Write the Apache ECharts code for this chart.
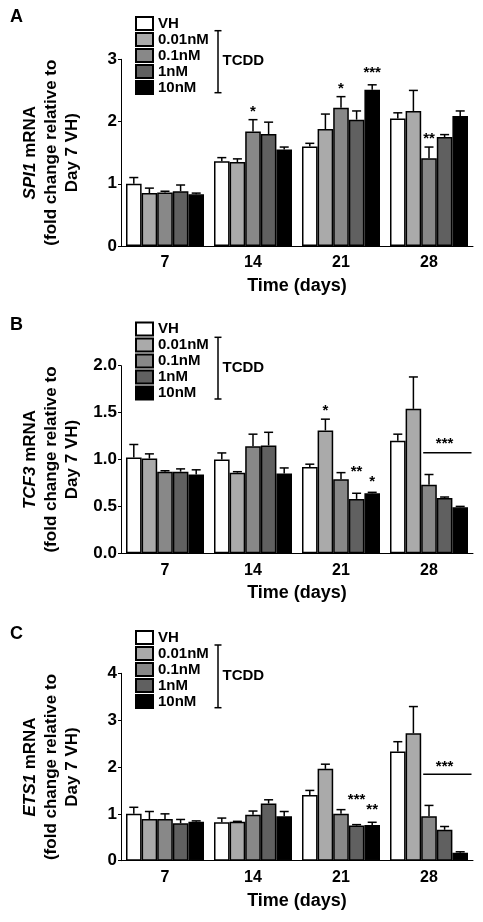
<!DOCTYPE html>
<html>
<head>
<meta charset="utf-8">
<script src="https://cdn.jsdelivr.net/npm/echarts@6/dist/echarts.min.js"></script>
<style>html,body{margin:0;padding:0;background:#fff}#c{width:483px;height:922px}</style>
</head>
<body>
<div id="c"></div>
<script>
// ---- data ----
const days = ['7', '14', '21', '28'];
const doses = ['VH', '0.01nM', '0.1nM', '1nM', '10nM'];
const doseColors = ['#ffffff', '#aaaaaa', '#888888', '#606060', '#000000'];

// SPI1 means per dose (over days 7,14,21,28)
const spi1Mean = [
  [1.00, 1.36, 1.60, 2.05],
  [0.85, 1.35, 1.88, 2.17],
  [0.86, 1.84, 2.22, 1.41],
  [0.88, 1.80, 2.03, 1.75],
  [0.83, 1.55, 2.51, 2.09]
];
const spi1Sem = [
  [0.10, 0.06, 0.05, 0.09],
  [0.08, 0.05, 0.24, 0.33],
  [0.02, 0.19, 0.18, 0.18],
  [0.10, 0.19, 0.14, 0.04],
  [0.02, 0.04, 0.08, 0.08]
];
// TCF3
const tcf3Mean = [
  [1.02, 1.00, 0.92, 1.20],
  [1.01, 0.86, 1.31, 1.54],
  [0.87, 1.14, 0.79, 0.73],
  [0.87, 1.15, 0.58, 0.59],
  [0.84, 0.85, 0.64, 0.49]
];
const tcf3Sem = [
  [0.14, 0.07, 0.03, 0.07],
  [0.05, 0.01, 0.12, 0.34],
  [0.01, 0.13, 0.07, 0.11],
  [0.03, 0.14, 0.06, 0.01],
  [0.05, 0.06, 0.01, 0.01]
];
// ETS1
const ets1Mean = [
  [1.00, 0.82, 1.40, 2.33],
  [0.89, 0.83, 1.96, 2.72],
  [0.89, 0.98, 1.00, 0.95],
  [0.80, 1.22, 0.75, 0.66],
  [0.83, 0.95, 0.76, 0.17]
];
const ets1Sem = [
  [0.14, 0.09, 0.10, 0.21],
  [0.16, 0.01, 0.10, 0.57],
  [0.11, 0.08, 0.09, 0.23],
  [0.08, 0.08, 0.02, 0.07],
  [0.02, 0.10, 0.06, 0.02]
];
// significance marks: [dayIndex, doseIndex, yValue, text]
const sigA = [[1, 2, 2.22, '*'], [2, 2, 2.59, '*'], [2, 4, 2.85, '***'], [3, 2, 1.78, '**']];
const sigB = [[2, 1, 1.556, '*'], [2, 3, 0.906, '**'], [2, 4, 0.80, '*'], [3, 3, 1.21, '***']];
const sigC = [[2, 3, 1.388, '***'], [2, 4, 1.167, '**'], [3, 3, 2.09, '***']];
// horizontal significance lines: [dayIndex, fromDose, toDose, yValue]
const lineB = [[3, 2, 4, 1.073]];
const lineC = [[3, 2, 4, 1.843]];
// y axis ticks
const yTicksA = [0, 1, 2, 3];
const yTicksB = [0, 0.5, 1.0, 1.5, 2.0];
const yTicksC = [0, 1, 2, 3, 4];

// ---- chart ----
const FONT = '"Liberation Sans", Arial, Helvetica, sans-serif';
const BW = 15.6;
const chart = echarts.init(document.getElementById('c'), null, {renderer: 'canvas'});

const grids = [
  {left: 121, top: 59.3, width: 352, height: 186.7},
  {left: 121, top: 365.7, width: 352, height: 187.6},
  {left: 121, top: 673.3, width: 352, height: 187.4}
];
const panels = [
  {mean: spi1Mean, sem: spi1Sem, sig: sigA, lines: [], ticks: yTicksA, gene: 'SPI1', dec: 0},
  {mean: tcf3Mean, sem: tcf3Sem, sig: sigB, lines: lineB, ticks: yTicksB, gene: 'TCF3', dec: 1},
  {mean: ets1Mean, sem: ets1Sem, sig: sigC, lines: lineC, ticks: yTicksC, gene: 'ETS1', dec: 0}
];

const xAxes = [], yAxes = [], series = [];
panels.forEach((p, gi) => {
  xAxes.push({
    type: 'category', gridIndex: gi, data: days,
    axisLine: {lineStyle: {color: '#000', width: 1}},
    axisTick: {alignWithLabel: true, length: 4, lineStyle: {color: '#000'}},
    axisLabel: {color: '#000', fontFamily: FONT, fontWeight: 'bold', fontSize: 16, margin: 9},
    name: 'Time (days)', nameLocation: 'middle', nameGap: 31,
    nameTextStyle: {color: '#000', fontFamily: FONT, fontWeight: 'bold', fontSize: 18}
  });
  const tk = p.ticks;
  yAxes.push({
    type: 'value', gridIndex: gi, min: tk[0], max: tk[tk.length - 1], interval: tk[1] - tk[0],
    splitLine: {show: false},
    axisLine: {show: true, lineStyle: {color: '#000', width: 1}},
    axisTick: {show: true, length: 3, lineStyle: {color: '#000'}},
    axisLabel: {color: '#000', fontFamily: FONT, fontWeight: 'bold', fontSize: 17, margin: 4,
      formatter: v => v.toFixed(p.dec)},
    name: '{it|' + p.gene + '} mRNA\n(fold change relative to\nDay 7 VH)',
    nameLocation: 'middle', nameGap: 38,
    nameTextStyle: {color: '#000', fontFamily: FONT, fontWeight: 'bold', fontSize: 17, lineHeight: 21,
      rich: {it: {fontStyle: 'italic', fontWeight: 'bold', fontFamily: FONT, fontSize: 17, color: '#000'}}}
  });
  doses.forEach((d, di) => {
    series.push({
      type: 'bar', name: d, xAxisIndex: gi, yAxisIndex: gi, data: p.mean[di],
      barWidth: BW, barGap: '0%',
      itemStyle: {color: doseColors[di], borderColor: '#000', borderWidth: 1.5},
      emphasis: {disabled: true}, z: 2
    });
  });
  // error bars
  const eb = [];
  p.mean.forEach((arr, di) => arr.forEach((m, dy) => eb.push([dy, di, m, m + p.sem[di][dy]])));
  series.push({
    type: 'custom', xAxisIndex: gi, yAxisIndex: gi, data: eb, encode: {x: 0, y: 3}, z: 3,
    renderItem: (params, api) => {
      const b = api.coord([api.value(0), api.value(2)]);
      const t = api.coord([api.value(0), api.value(3)]);
      const x = b[0] + (api.value(1) - 2) * BW;
      return {type: 'group', children: [
        {type: 'line', shape: {x1: x, y1: b[1], x2: x, y2: t[1]}, style: {stroke: '#000', lineWidth: 1.5}},
        {type: 'line', shape: {x1: x - 4.5, y1: t[1], x2: x + 4.5, y2: t[1]}, style: {stroke: '#000', lineWidth: 1.5}}
      ]};
    }
  });
  // significance text
  const sig = p.sig;
  series.push({
    type: 'custom', xAxisIndex: gi, yAxisIndex: gi, data: sig.map(s => [s[0], s[1], s[2]]),
    encode: {x: 0, y: 2}, z: 4, silent: true,
    renderItem: (params, api) => {
      const c = api.coord([api.value(0), api.value(2)]);
      const x = c[0] + (api.value(1) - 2) * BW;
      return {type: 'text', style: {x: x, y: c[1] + 4, text: sig[params.dataIndex][3],
        font: 'bold 15px ' + FONT, fill: '#000', align: 'center', verticalAlign: 'middle'}};
    }
  });
  if (p.lines.length) {
    const ln = p.lines;
    series.push({
      type: 'custom', xAxisIndex: gi, yAxisIndex: gi, data: ln.map(l => [l[0], l[1], l[2], l[3]]),
      encode: {x: 0, y: 3}, z: 4, silent: true,
      renderItem: (params, api) => {
        const c = api.coord([api.value(0), api.value(3)]);
        const x1 = c[0] + (api.value(1) - 2.5) * BW + 2;
        const x2 = c[0] + (api.value(2) - 1.5) * BW + 3.5;
        return {type: 'line', shape: {x1: x1, y1: c[1], x2: x2, y2: c[1]}, style: {stroke: '#000', lineWidth: 1.5}};
      }
    });
  }
});

const legendTops = [16, 321.5, 630];
const legends = legendTops.map(t => ({
  orient: 'vertical', left: 135, top: t, itemWidth: 17, itemHeight: 13, itemGap: 1,
  icon: 'rect', selectedMode: false, padding: 0,
  data: doses,
  textStyle: {color: '#000', fontFamily: FONT, fontWeight: 'bold', fontSize: 15, lineHeight: 13}
}));

// TCDD brackets and panel letters
const brackets = [[30.7, 92.7, 61], [337.3, 399, 367.7], [645, 707.7, 675.7]];
const letters = [['A', 17], ['B', 325], ['C', 634]];
const graphic = [];
brackets.forEach(b => {
  graphic.push({type: 'line', shape: {x1: 218, y1: b[0], x2: 218, y2: b[1]}, style: {stroke: '#000', lineWidth: 1.5}});
  graphic.push({type: 'line', shape: {x1: 214.5, y1: b[0], x2: 221.5, y2: b[0]}, style: {stroke: '#000', lineWidth: 1.5}});
  graphic.push({type: 'line', shape: {x1: 214.5, y1: b[1], x2: 221.5, y2: b[1]}, style: {stroke: '#000', lineWidth: 1.5}});
  graphic.push({type: 'text', x: 222.5, y: b[2], style: {text: 'TCDD', font: 'bold 15px ' + FONT, fill: '#000', verticalAlign: 'middle'}});
});
letters.forEach(l => {
  graphic.push({type: 'text', x: 10, y: l[1], style: {text: l[0], font: 'bold 18px ' + FONT, fill: '#000', verticalAlign: 'middle'}});
});

chart.setOption({
  animation: false,
  backgroundColor: '#fff',
  grid: grids,
  xAxis: xAxes,
  yAxis: yAxes,
  legend: legends,
  graphic: graphic,
  series: series
});
</script>
</body>
</html>
